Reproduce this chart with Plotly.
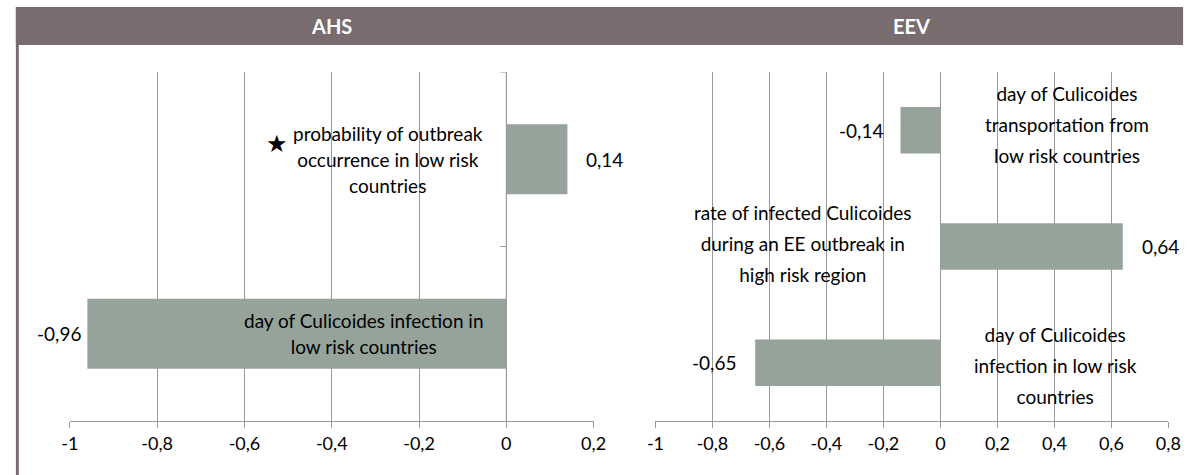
import plotly.graph_objects as go
from plotly.subplots import make_subplots

# ---------------- data ----------------
ahs_params = ["probability of outbreak occurrence in low risk countries",
              "day of Culicoides infection in low risk countries"]
ahs_values = [0.14, -0.96]
ahs_labels = [["probability of outbreak", "occurrence in low risk", "countries"],
              ["day of Culicoides infection in", "low risk countries"]]

eev_params = ["day of Culicoides transportation from low risk countries",
              "rate of infected Culicoides during an EE outbreak in high risk region",
              "day of Culicoides infection in low risk countries"]
eev_values = [-0.14, 0.64, -0.65]
eev_labels = [["day of Culicoides", "transportation from", "low risk countries"],
              ["rate of infected Culicoides", "during an EE outbreak in", "high risk region"],
              ["day of Culicoides", "infection in low risk", "countries"]]

ahs_ticks = [-1, -0.8, -0.6, -0.4, -0.2, 0, 0.2]
eev_ticks = [-1, -0.8, -0.6, -0.4, -0.2, 0, 0.2, 0.4, 0.6, 0.8]
panel_titles = ["AHS", "EEV"]

# ---------------- layout/style settings ----------------
W, H = 1200, 475
BAR = "#95A39A"
HEAD = "#786C6E"
GRID = "#9A9A9A"
FONT = "Lato"
TXT = 19
# label placement (data x of text centre, pixel y shift)
ahs_label_x = [-0.27, -0.327]
ahs_label_dy = [0, 0]
eev_label_x = [0.445, -0.483, 0.403]
eev_label_dy = [6, 3, -3]
ahs_val_shift = [17, 4]
eev_val_shift = [16, 17, 17]


def fmt(v):
    s = f"{v:.2f}".rstrip("0").rstrip(".") if v != 0 else "0"
    return s.replace(".", ",")


def tick_text(v):
    if v == 0:
        return "0"
    s = f"{v:.1f}".rstrip("0").rstrip(".")
    return s.replace(".", ",")


fig = make_subplots(rows=1, cols=2)

fig.add_trace(go.Bar(x=ahs_values, y=list(range(len(ahs_values))), orientation="h",
                     marker=dict(color=BAR, line=dict(width=0)), width=0.4,
                     hoverinfo="skip", showlegend=False), row=1, col=1)
fig.add_trace(go.Bar(x=eev_values, y=list(range(len(eev_values))), orientation="h",
                     marker=dict(color=BAR, line=dict(width=0)), width=0.4,
                     hoverinfo="skip", showlegend=False), row=1, col=2)

xd1 = [62 / W, 595 / W]
xd2 = [658 / W, 1180 / W]
yd = [1 - 421 / H, 1 - 72 / H]

common_x = dict(showgrid=True, gridcolor=GRID, gridwidth=1, zeroline=False,
                showline=True, linecolor=GRID, linewidth=1, ticks="outside",
                ticklen=6, tickcolor=GRID, tickfont=dict(family=FONT, size=18, color="#000"),
                fixedrange=True)
fig.update_xaxes(domain=xd1, range=[-1, 0.2], tickvals=ahs_ticks,
                 ticktext=[tick_text(v) for v in ahs_ticks], row=1, col=1, **common_x)
fig.update_xaxes(domain=xd2, range=[-1, 0.8], tickvals=eev_ticks,
                 ticktext=[tick_text(v) for v in eev_ticks], row=1, col=2, **common_x)
fig.update_yaxes(domain=yd, range=[len(ahs_values) - 0.5, -0.5], showticklabels=False,
                 showgrid=False, zeroline=False, showline=False, fixedrange=True, row=1, col=1)
fig.update_yaxes(domain=yd, range=[len(eev_values) - 0.5, -0.5], showticklabels=False,
                 showgrid=False, zeroline=False, showline=False, fixedrange=True, row=1, col=2)

shapes = []
# header band and left frame line
shapes.append(dict(type="rect", xref="paper", yref="paper", x0=7 / W, x1=1195 / W,
                   y0=1 - 45 / H, y1=1 - 7 / H, fillcolor=HEAD, line=dict(width=0), layer="below"))
shapes.append(dict(type="rect", xref="paper", yref="paper", x0=7 / W, x1=10 / W,
                   y0=0, y1=1 - 7 / H, fillcolor=HEAD, line=dict(width=0), layer="below"))
# AHS vertical axis at 0 with category tick marks
shapes.append(dict(type="line", xref="x", yref="y domain", x0=0, x1=0, y0=0, y1=1,
                   line=dict(color=GRID, width=1)))
for b in range(len(ahs_values)):
    shapes.append(dict(type="line", xref="x", yref="y", xsizemode="pixel", xanchor=0,
                       x0=-6, x1=0, y0=b - 0.5, y1=b - 0.5, line=dict(color=GRID, width=1)))

annotations = []
for i, t in enumerate(panel_titles):
    dom = xd1 if i == 0 else xd2
    annotations.append(dict(xref="paper", yref="paper", x=(dom[0] + dom[1]) / 2, y=1 - 26 / H,
                            xanchor="center", yanchor="middle", text=f"<b>{t}</b>",
                            showarrow=False, font=dict(family=FONT, size=20, color="white")))


def multi(lines, size=TXT):
    return "<br>".join(f"<span style='font-size:{size}px'>{l}</span>" for l in lines)


for i, (v, lab) in enumerate(zip(ahs_values, ahs_labels)):
    annotations.append(dict(xref="x", yref="y", x=ahs_label_x[i], y=i, yshift=ahs_label_dy[i],
                            xanchor="center", yanchor="middle",
                            text=multi(lab), showarrow=False, align="center",
                            font=dict(family=FONT, size=20, color="#000")))
    annotations.append(dict(xref="x", yref="y", x=v, y=i, text=fmt(v), showarrow=False,
                            xanchor="left" if v > 0 else "right", yanchor="middle",
                            xshift=ahs_val_shift[i] if v > 0 else -ahs_val_shift[i],
                            font=dict(family=FONT, size=TXT, color="#000")))
for i, (v, lab) in enumerate(zip(eev_values, eev_labels)):
    annotations.append(dict(xref="x2", yref="y2", x=eev_label_x[i], y=i, yshift=eev_label_dy[i],
                            xanchor="center", yanchor="middle",
                            text=multi(lab), showarrow=False, align="center",
                            font=dict(family=FONT, size=24, color="#000")))
    annotations.append(dict(xref="x2", yref="y2", x=v, y=i, text=fmt(v), showarrow=False,
                            xanchor="left" if v > 0 else "right", yanchor="middle",
                            xshift=eev_val_shift[i] if v > 0 else -eev_val_shift[i],
                            font=dict(family=FONT, size=TXT, color="#000")))

# star marker next to the first AHS parameter
annotations.append(dict(xref="x", yref="y", x=-0.525, y=0, yshift=15, text="★", showarrow=False,
                        xanchor="center", yanchor="middle",
                        font=dict(family="DejaVu Sans", size=24, color="#000")))

fig.update_layout(width=W, height=H, margin=dict(l=0, r=0, t=0, b=0),
                  paper_bgcolor="white", plot_bgcolor="white", bargap=0.6,
                  shapes=shapes, annotations=annotations, separators=", ",
                  font=dict(family=FONT, size=TXT, color="#000"), showlegend=False,
                  hovermode=False)

fig.write_html("out.html", config={"displayModeBar": False, "staticPlot": True},
               post_script="document.body.style.margin='0';document.body.style.overflow='hidden';")
